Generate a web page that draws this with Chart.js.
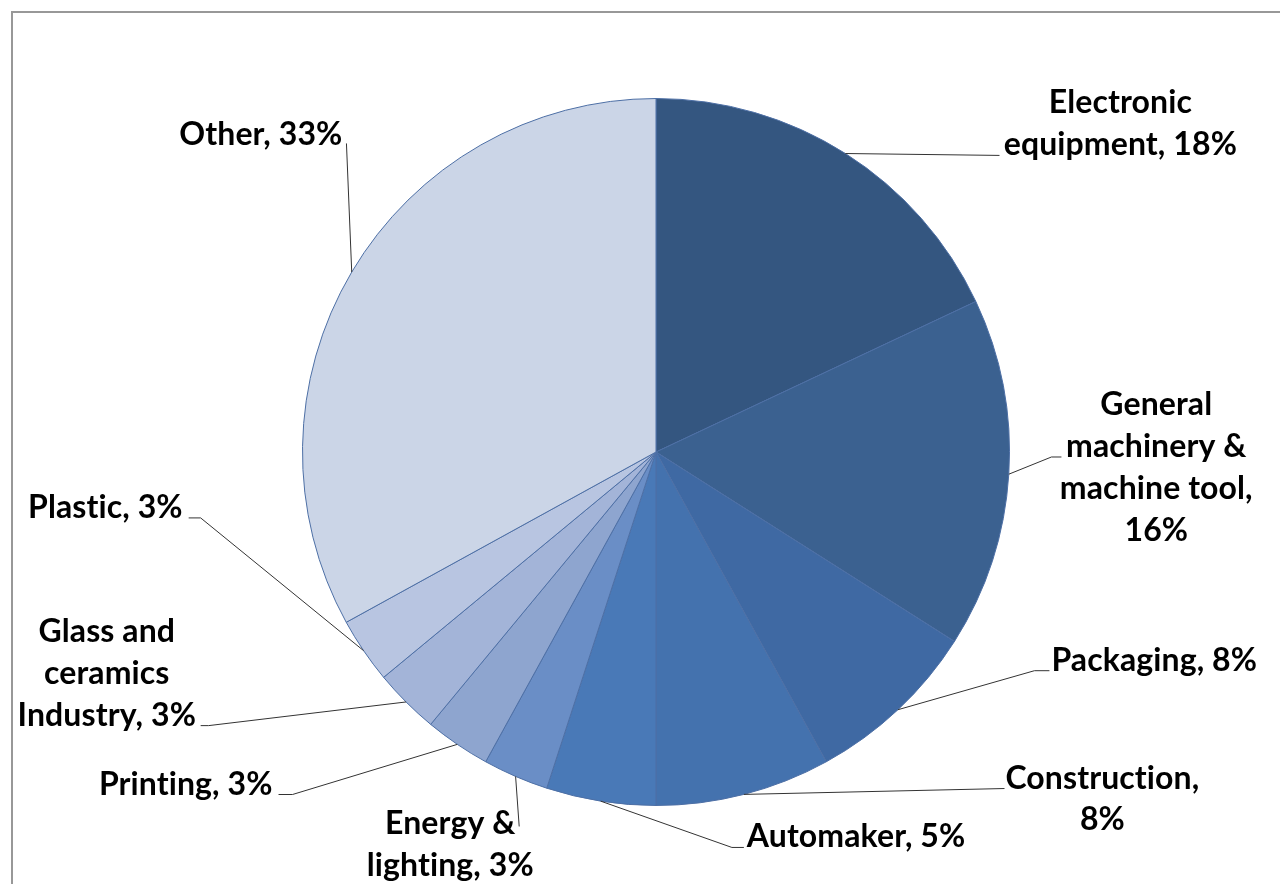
<!DOCTYPE html>
<html>
<head>
<meta charset="utf-8">
<script src="https://cdn.jsdelivr.net/npm/chart.js@4/dist/chart.umd.min.js"></script>
<style>
  html, body { margin: 0; padding: 0; background: #fff; }
  #wrap { width: 1280px; height: 884px; position: relative; }
</style>
</head>
<body>
<div id="wrap"><canvas id="pie"></canvas></div>
<script>
const categories = [
  "Electronic equipment",
  "General machinery & machine tool",
  "Packaging",
  "Construction",
  "Automaker",
  "Energy & lighting",
  "Printing",
  "Glass and ceramics Industry",
  "Plastic",
  "Other"
];
const shares = [18, 16, 8, 8, 5, 3, 3, 3, 3, 33];
const labelLines = [
  ["Electronic", "equipment, 18%"],
  ["General", "machinery &", "machine tool,", "16%"],
  ["Packaging, 8%"],
  ["Construction,", "8%"],
  ["Automaker, 5%"],
  ["Energy &", "lighting, 3%"],
  ["Printing, 3%"],
  ["Glass and", "ceramics", "Industry, 3%"],
  ["Plastic, 3%"],
  ["Other, 33%"]
];
const sliceColors = [
  "#345680", "#3b6190", "#3f69a3", "#4472ae", "#4979b7",
  "#6a8ec6", "#8ea5cf", "#a3b4d8", "#b8c5e1", "#cbd5e7"
];

// label placement, offsets from the pie centre in px for a 354px radius
// elbow = where the leader bends, tail = end x of short horizontal piece
const labelLayout = [
  { elbow: [344, -297], tail: null, text: [465, -339], align: "center" },
  { elbow: [396, 5], tail: 406, text: [501, -37], align: "center" },
  { elbow: [379, 219], tail: 394, text: [396, 219], align: "left" },
  { elbow: [349, 337], tail: null, text: [447, 337], align: "center" },
  { elbow: [76, 396], tail: 88, text: [91, 396], align: "left" },
  { elbow: [-137, 375], tail: null, text: [-206, 383], align: "center" },
  { elbow: [-364, 343], tail: -378, text: [-384, 343], align: "right" },
  { elbow: [-448, 274], tail: -456, text: [-550, 190], align: "center" },
  { elbow: [-456, 66], tail: -468, text: [-474, 66], align: "right" },
  { elbow: [-310, -309], tail: null, text: [-314, -307], align: "right" }
];

const frame = {
  id: "frame",
  beforeDraw(chart) {
    const ctx = chart.ctx;
    ctx.save();
    ctx.strokeStyle = "#989898";
    ctx.lineWidth = 2;
    ctx.strokeRect(12, 12, 1300, 900);
    ctx.restore();
  }
};

const leaderLabels = {
  id: "leaderLabels",
  afterDatasetsDraw(chart) {
    const ctx = chart.ctx;
    const arcs = chart.getDatasetMeta(0).data;
    ctx.save();
    arcs.forEach((arc, i) => {
      const p = arc.getProps(["x", "y", "startAngle", "endAngle", "outerRadius"], true);
      const k = p.outerRadius / 354;
      const mid = (p.startAngle + p.endAngle) / 2;
      const sx = p.x + Math.cos(mid) * p.outerRadius;
      const sy = p.y + Math.sin(mid) * p.outerRadius;
      const lay = labelLayout[i];
      const ex = p.x + lay.elbow[0] * k;
      const ey = p.y + lay.elbow[1] * k;
      ctx.strokeStyle = "#333";
      ctx.lineWidth = 1;
      ctx.beginPath();
      ctx.moveTo(sx, sy);
      ctx.lineTo(ex, ey);
      if (lay.tail !== null) ctx.lineTo(p.x + lay.tail * k, ey);
      ctx.stroke();

      ctx.fillStyle = "#000";
      ctx.font = "bold 32px Lato, 'Open Sans', sans-serif";
      ctx.letterSpacing = "0.1px"; // keeps Lato from joining "ti"/"fi"
      ctx.textAlign = lay.align;
      ctx.textBaseline = "alphabetic";
      const tx = p.x + lay.text[0] * k;
      const ty = p.y + lay.text[1] * k;
      labelLines[i].forEach((line, j) => {
        ctx.fillText(line, tx, ty + j * 42 * k);
      });
    });
    ctx.restore();
  }
};

new Chart(document.getElementById("pie"), {
  type: "pie",
  data: {
    labels: categories,
    datasets: [{
      data: shares,
      backgroundColor: sliceColors,
      borderColor: "#4d6fa5",
      borderWidth: 1
    }]
  },
  options: {
    responsive: true,
    maintainAspectRatio: false,
    animation: false,
    layout: { padding: { top: 98, bottom: 78, left: 302, right: 270 } },
    plugins: {
      legend: { display: false },
      tooltip: { enabled: false }
    }
  },
  plugins: [frame, leaderLabels]
});
</script>
</body>
</html>
